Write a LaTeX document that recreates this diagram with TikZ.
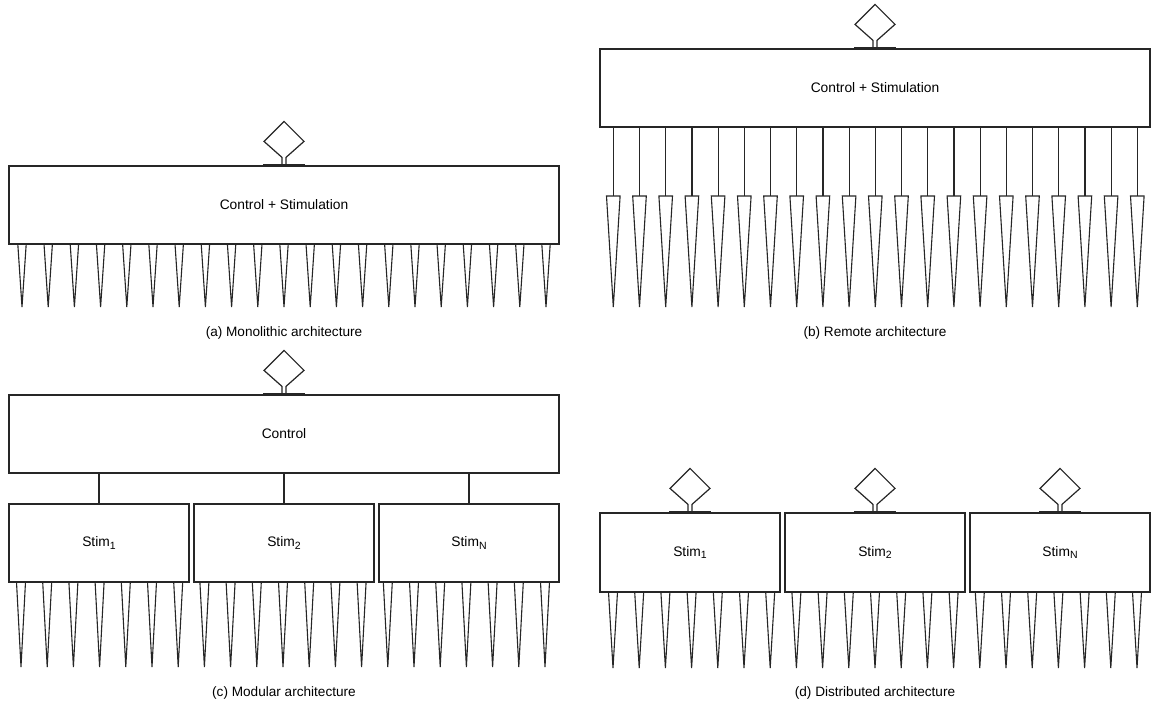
\documentclass[tikz,border=0pt]{standalone}
\usepackage{fontspec}
\setmainfont{Liberation Sans}
\begin{document}
\begin{tikzpicture}[x=1pt,y=-1pt,
  ink/.style={draw=black!85},
  box/.style={ink, line width=1.2pt, minimum height=78pt, inner sep=0pt,
    font=\fontsize{13.8}{16}\selectfont},
  ctrlbox/.style={box, minimum width=550pt},
  stimbox/.style={box, minimum width=180pt, minimum height=79pt},
  caption/.style={font=\fontsize{13.6}{16}\selectfont, inner sep=0pt},
  wire/.style={ink, line width=1.2pt},
  spk/.style={ink, line width=1.1pt, line join=miter},
  sub/.style={},
  antenna/.pic={
    \draw[ink, line width=2.2pt] (-21,0) -- (21,0);
    \draw[wire, line join=miter] (-2,0) -- (-2,-8) -- (-20,-24) -- (0,-44)
      -- (20,-24) -- (2,-8) -- (2,0);
  }]
\newcommand\stimsub[1]{Stim\raisebox{-0.35ex}{\fontsize{10.5}{12}\selectfont #1}}
\fill[white] (0,0) rectangle (1151,709);
\useasboundingbox (0,0) rectangle (1151,709);

% (a) monolithic
\node[ctrlbox] (ctrlA) at (284,205) {Control + Stimulation};
\pic at (ctrlA.north) {antenna};
\foreach \k in {0,...,20} {
  \pgfmathsetmacro\xx{22+26.2*\k}
  \draw[spk] (\xx-4.2,244) -- (\xx,307) -- (\xx+4.2,244);
}
\node[caption] (capA) at (284,333) {(a) Monolithic architecture};

% (b) remote
\node[ctrlbox] (ctrlB) at (875,88) {Control + Stimulation};
\pic at (ctrlB.north) {antenna};
\foreach \k in {0,...,20} {
  \pgfmathsetmacro\xx{613.3+26.2*\k}
  \coordinate (b\k) at (\xx,196);
  \draw[wire] (ctrlB.south -| b\k) -- (b\k);
  \draw[spk] (\xx-6.8,196) -- (\xx,307) -- (\xx+6.8,196) -- cycle;
}
\node[caption] (capB) at (875,333) {(b) Remote architecture};

% (c) modular
\node[ctrlbox] (ctrlC) at (284,434) {Control};
\pic at (ctrlC.north) {antenna};
\node[stimbox, minimum height=78pt] (c1) at (99,543) {\stimsub{1}};
\node[stimbox, minimum height=78pt] (c2) at (284,543) {\stimsub{2}};
\node[stimbox, minimum height=78pt] (cN) at (469,543) {\stimsub{N}};
\foreach \s in {c1,c2,cN} {
  \draw[wire] (ctrlC.south -| \s.north) -- (\s.north);
}
\foreach \k in {0,...,20} {
  \pgfmathsetmacro\xx{21+26.2*\k}
  \draw[spk] (\xx-4.5,582) -- (\xx,667) -- (\xx+4.5,582);
}
\node[caption] (capC) at (284,693) {(c) Modular architecture};

% (d) distributed
\node[stimbox] (d1) at (690,552.5) {\stimsub{1}};
\node[stimbox] (d2) at (875,552.5) {\stimsub{2}};
\node[stimbox] (dN) at (1060,552.5) {\stimsub{N}};
\foreach \s in {d1,d2,dN} {
  \pic at (\s.north) {antenna};
}
\foreach \k in {0,...,20} {
  \pgfmathsetmacro\xx{613+26.2*\k}
  \draw[spk] (\xx-4.5,592) -- (\xx,668) -- (\xx+4.5,592);
}
\node[caption] (capD) at (875,693) {(d) Distributed architecture};
\end{tikzpicture}
\end{document}
